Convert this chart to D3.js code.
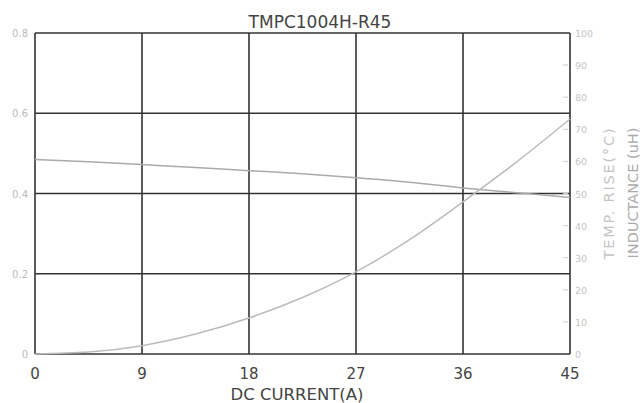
<!DOCTYPE html>
<html>
<head>
<meta charset="utf-8">
<script src="https://cdn.jsdelivr.net/npm/d3@7"></script>
<style>
  body { margin: 0; background: #fff; }
  text { font-family: "DejaVu Sans", sans-serif; }
</style>
</head>
<body>
<div class="chart"></div>
<script>
var title = "TMPC1004H-R45";
var xTicks = [0, 9, 18, 27, 36, 45];
var leftTicks = [0, 0.2, 0.4, 0.6, 0.8];
var rightTicks = [0, 10, 20, 30, 40, 50, 60, 70, 80, 90, 100];

// inductance (uH) vs current, left axis
var indCurrent = [0, 4.5, 9, 13.5, 18, 22.5, 27, 31.5, 36, 40.5, 45];
var indValues = [0.485, 0.479, 0.472, 0.465, 0.457, 0.449, 0.439, 0.428, 0.414, 0.402, 0.390];

// temperature rise (C) vs current, right axis
var tempCurrent = [0, 4.5, 9, 13.5, 18, 22.5, 27, 31.5, 36, 40.5, 45];
var tempValues = [0, 0.6, 2.6, 6.2, 11.2, 17.6, 25.6, 35.6, 47.4, 59.8, 73.2];

var width = 643, height = 403;
var plotL = 35, plotR = 570, plotT = 33, plotB = 354;

var svg = d3.select(".chart").append("svg")
    .attr("width", width)
    .attr("height", height);

var x = d3.scaleLinear().domain([0, 45]).range([plotL, plotR]);
var yL = d3.scaleLinear().domain([0, 0.8]).range([plotB, plotT]);
var yR = d3.scaleLinear().domain([0, 100]).range([plotB, plotT]);

// grid
svg.append("g").selectAll("line")
    .data(xTicks).enter().append("line")
    .attr("x1", function(d) { return x(d); })
    .attr("x2", function(d) { return x(d); })
    .attr("y1", plotT).attr("y2", plotB)
    .attr("stroke", "#333").attr("stroke-width", 1.6);

svg.append("g").selectAll("line")
    .data(leftTicks).enter().append("line")
    .attr("x1", plotL).attr("x2", plotR)
    .attr("y1", function(d) { return yL(d); })
    .attr("y2", function(d) { return yL(d); })
    .attr("stroke", "#333").attr("stroke-width", 1.6);

// right axis minor marks
svg.append("g").selectAll("line")
    .data(rightTicks.slice(1, -1)).enter().append("line")
    .attr("x1", plotR - 7).attr("x2", plotR - 2)
    .attr("y1", function(d) { return yR(d); })
    .attr("y2", function(d) { return yR(d); })
    .attr("stroke", "#ccc").attr("stroke-width", 1);

// curves
var indLine = d3.line()
    .x(function(d) { return x(d[0]); })
    .y(function(d) { return yL(d[1]); })
    .curve(d3.curveMonotoneX);
var tempLine = d3.line()
    .x(function(d) { return x(d[0]); })
    .y(function(d) { return yR(d[1]); })
    .curve(d3.curveMonotoneX);

svg.append("path")
    .datum(d3.zip(indCurrent, indValues))
    .attr("d", indLine)
    .attr("fill", "none").attr("stroke", "#aaa").attr("stroke-width", 1.5);

svg.append("path")
    .datum(d3.zip(tempCurrent, tempValues))
    .attr("d", tempLine)
    .attr("fill", "none").attr("stroke", "#bbb").attr("stroke-width", 1.5);

// left labels
svg.append("g").selectAll("text")
    .data(leftTicks).enter().append("text")
    .attr("x", plotL - 7)
    .attr("y", function(d) { return yL(d) + 4; })
    .attr("text-anchor", "end")
    .attr("font-size", 10)
    .attr("fill", "#bbb")
    .text(function(d) { return d === 0 ? "0" : d.toFixed(1); });

// right labels
svg.append("g").selectAll("text")
    .data(rightTicks).enter().append("text")
    .attr("x", plotR + 5)
    .attr("y", function(d) { return yR(d) + 4; })
    .attr("font-size", 9.5)
    .attr("fill", "#c4c4c4")
    .text(function(d) { return d; });

// x labels
svg.append("g").selectAll("text")
    .data(xTicks).enter().append("text")
    .attr("x", function(d) { return x(d); })
    .attr("y", 379)
    .attr("text-anchor", "middle")
    .attr("font-size", 15)
    .attr("fill", "#444")
    .text(function(d) { return d; });

svg.append("text")
    .attr("x", 297).attr("y", 400)
    .attr("text-anchor", "middle")
    .attr("font-size", 16.5)
    .attr("fill", "#444")
    .text("DC CURRENT(A)");

svg.append("text")
    .attr("x", 320).attr("y", 28)
    .attr("text-anchor", "middle")
    .attr("font-size", 17)
    .attr("fill", "#444")
    .text(title);

svg.append("text")
    .attr("transform", "translate(614,193) rotate(-90)")
    .attr("text-anchor", "middle")
    .attr("font-size", 14.5)
    .attr("letter-spacing", 1.8)
    .attr("fill", "#c4c4c4")
    .text("TEMP. RISE(°C)");

svg.append("text")
    .attr("transform", "translate(638,193) rotate(-90)")
    .attr("text-anchor", "middle")
    .attr("font-size", 14.5)
    .attr("fill", "#aaa")
    .text("INDUCTANCE (uH)");
</script>
</body>
</html>
